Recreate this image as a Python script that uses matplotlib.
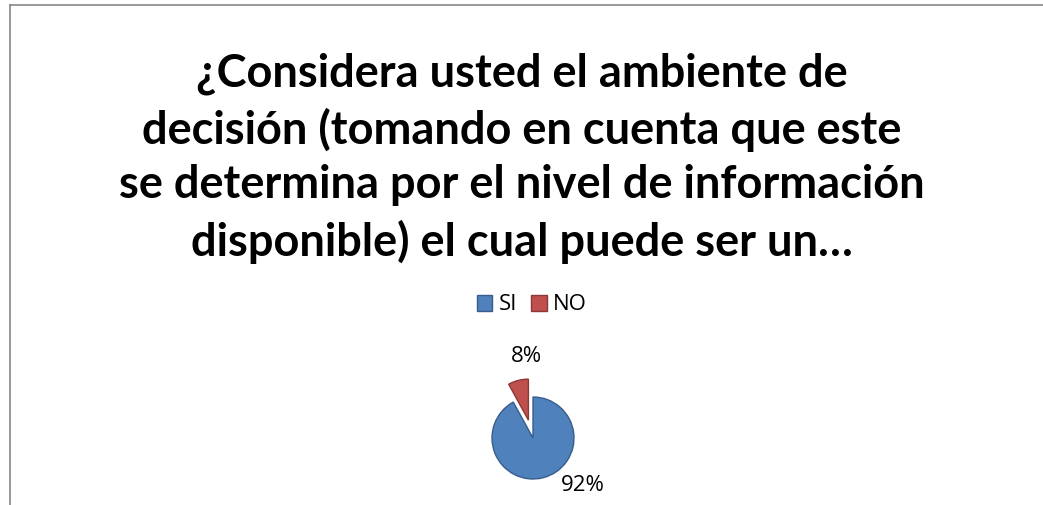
import matplotlib.pyplot as plt
from matplotlib.lines import Line2D

# data
labels = ['SI', 'NO']
values = [92, 8]
colors = ['#4F81BD', '#C0504D']
edges = ['#385D8A', '#8C3836']

title = ('¿Considera usted el ambiente de\n'
         'decisión (tomando en cuenta que este\n'
         'se determina por el nivel de información\n'
         'disponible) el cual puede ser un…')

fig = plt.figure(figsize=(10.43, 5.05), dpi=100)

# chart border (only top and left visible)
fig.add_artist(Line2D([10/1043, 10/1043], [0, 1 - 5/505], color='#868686', lw=1.2))
fig.add_artist(Line2D([10/1043, 1], [1 - 5/505, 1 - 5/505], color='#868686', lw=1.2))

fig.text(522/1043, 1 - 158/505, title, ha='center', va='center',
         fontsize=32.5, fontweight='bold', family='Lato', linespacing=1.36)

# pie axes: 200x200 px centred on the pie centre
ax = fig.add_axes([433/1043, (505 - 438 - 100)/505, 200/1043, 200/505])
wedges, texts, autotexts = ax.pie(values, colors=colors, startangle=90, counterclock=False,
                                  explode=[0, 0.45], autopct='%1.0f%%',
                                  wedgeprops=dict(linewidth=1.0),
                                  textprops=dict(fontsize=16, family='Open Sans'))
for w, ec in zip(wedges, edges):
    w.set_edgecolor(ec)
autotexts[0].set_position((1.22, -1.17))
autotexts[1].set_position((-0.15, 2.0))
ax.set_xlim(-2.44, 2.44)
ax.set_ylim(-2.44, 2.44)
ax.set_aspect('equal')
ax.axis('off')

leg = fig.legend(wedges, labels, loc='center', bbox_to_anchor=(532/1043, 1 - 305/505),
                 ncol=2, frameon=False, prop=dict(family='Open Sans', size=16),
                 handlelength=0.7, handleheight=0.7, handletextpad=0.3, columnspacing=0.6)

fig.savefig('out.png', dpi=100, facecolor='white')
